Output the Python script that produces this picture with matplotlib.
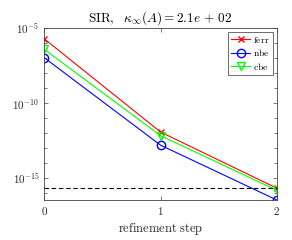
import matplotlib
matplotlib.use("Agg")
import matplotlib.pyplot as plt
import numpy as np

plt.rcParams['mathtext.fontset'] = 'cm'

# refinement steps and error values
steps = [0, 1, 2]
ferr = [1.9e-6, 1.2e-12, 2.2e-16]
nbe = [1.05e-7, 1.6e-13, 3.6e-17]
cbe = [3.8e-7, 6.9e-13, 1.6e-16]
u = 2.22e-16
yticks = [1e-15, 1e-10, 1e-5]
ytick_labels = [r'$\mathsf{10^{-15}}$', r'$\mathsf{10^{-10}}$', r'$\mathsf{10^{-5}}$']

fig = plt.figure(figsize=(2.92, 2.4), dpi=100)
ax = fig.add_axes([0.152, 0.1667, 0.796, 0.7163])

ax.semilogy(steps, ferr, color='r', marker='x', markersize=5, lw=0.8, label=r'$\mathrm{ferr}$')
ax.semilogy(steps, nbe, color='b', marker='o', markersize=6, mfc='none', lw=0.8, label=r'$\mathrm{nbe}$')
ax.semilogy(steps, cbe, color=(0, 1, 0), marker='v', markersize=6, mfc='none', lw=0.8, label=r'$\mathrm{cbe}$')
ax.axhline(u, color='k', ls='--', lw=0.8, dashes=(4, 2.5))

ax.set_xlim(0, 2)
ax.set_ylim(min(nbe), 1e-5)
ax.set_xticks(steps)
ax.set_xticklabels([r'$\mathsf{%d}$' % s for s in steps])
ax.set_yticks(yticks)
ax.set_yticklabels(ytick_labels)
ax.yaxis.set_minor_locator(matplotlib.ticker.FixedLocator(10.0 ** np.arange(-16, -5)))
ax.yaxis.set_minor_formatter(matplotlib.ticker.NullFormatter())
ax.tick_params(which='both', direction='in', top=True, right=True, labelsize=8,
               color='#444444', labelcolor='#262626', width=0.5)
ax.tick_params(which='major', length=3)
ax.tick_params(which='minor', length=2)
for s in ax.spines.values():
    s.set_linewidth(0.6)
    s.set_color('#444444')

ax.set_xlabel(r'$\mathrm{refinement\ step}$', fontsize=9, labelpad=3, color='#262626')
ax.set_title(r'$\mathrm{SIR,}\ \ \kappa_\infty(A) = 2.1e\,+\,02$', fontsize=9.5, pad=5)

leg = ax.legend(loc='upper right', fontsize=7, fancybox=False, framealpha=1,
                edgecolor='#555555', handlelength=2.0, borderpad=0.3,
                labelspacing=0.25, handletextpad=0.3, borderaxespad=0.4)
leg.get_frame().set_linewidth(0.6)

fig.savefig('out.png', dpi=100)
